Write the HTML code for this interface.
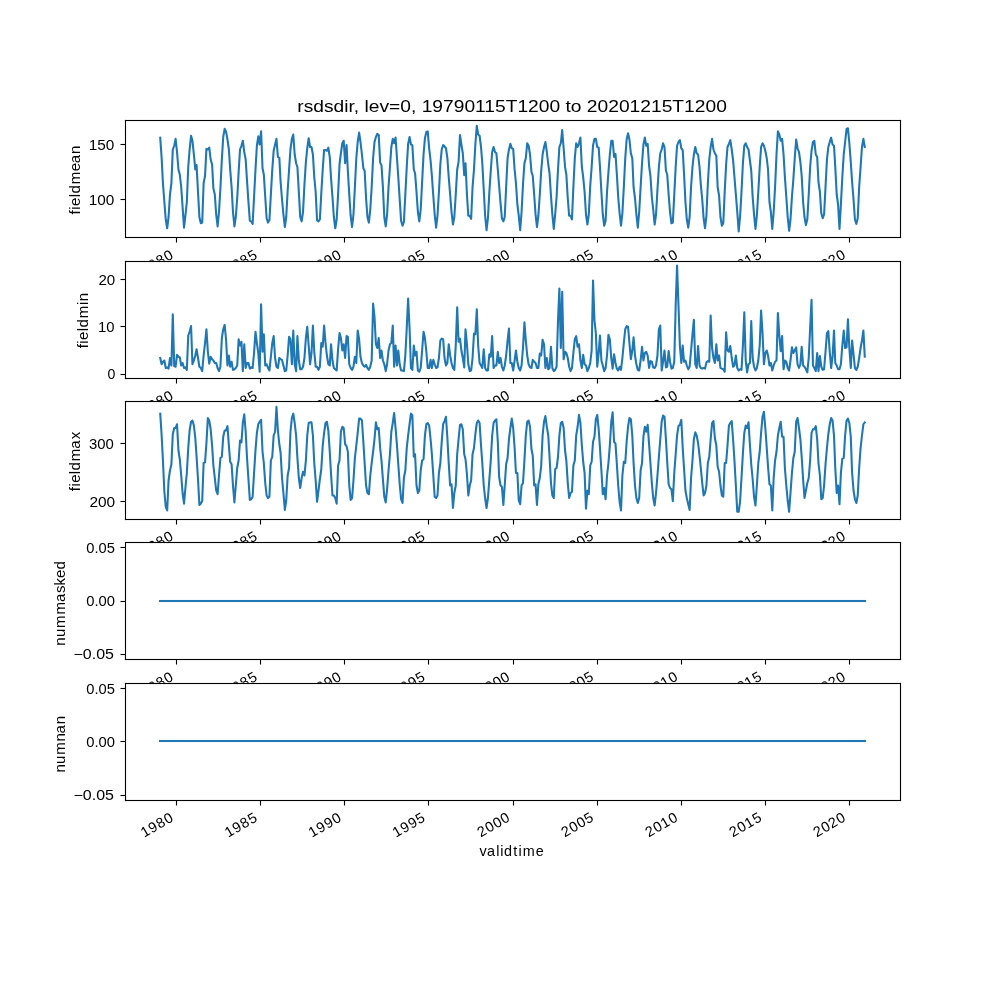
<!DOCTYPE html><html><head><meta charset="utf-8"><style>html,body{margin:0;padding:0;background:#fff;}svg{display:block;will-change:transform;}text{font-family:"Liberation Sans",sans-serif;fill:#000;}</style></head><body>
<svg width="1000" height="1000" viewBox="0 0 1000 1000">
<rect x="0" y="0" width="1000" height="1000" fill="#fff"/>
<defs><clipPath id="c0"><rect x="125" y="120.00" width="775" height="117.24"/></clipPath><clipPath id="c1"><rect x="125" y="260.69" width="775" height="117.24"/></clipPath><clipPath id="c2"><rect x="125" y="401.38" width="775" height="117.24"/></clipPath><clipPath id="c3"><rect x="125" y="542.07" width="775" height="117.24"/></clipPath><clipPath id="c4"><rect x="125" y="682.76" width="775" height="117.24"/></clipPath></defs>
<g><rect x="125" y="120.00" width="775" height="117.24" fill="#fff"/><polyline clip-path="url(#c0)" points="160.23,137.62 161.65,158.25 162.94,183.25 164.37,202.00 165.75,219.50 167.18,228.25 168.56,217.00 169.98,194.50 171.41,183.25 172.79,149.50 174.22,145.75 175.60,138.88 177.02,152.00 178.45,169.50 179.79,174.50 181.21,187.00 182.59,207.00 184.02,227.62 185.40,215.75 186.83,202.00 188.25,167.00 189.63,149.50 191.06,135.75 192.44,140.75 193.87,154.50 195.29,169.50 196.58,165.12 198.01,192.00 199.39,217.00 200.82,223.25 202.20,222.62 203.62,183.25 205.05,175.75 206.43,148.88 207.86,149.50 209.24,147.62 210.66,159.50 212.09,164.50 213.38,188.25 214.81,194.50 216.19,214.50 217.61,226.38 218.99,212.00 220.42,188.25 221.85,159.50 223.23,137.00 224.65,128.88 226.03,131.38 227.46,139.50 228.89,149.50 230.18,169.50 231.60,187.00 232.98,212.00 234.41,226.38 235.79,217.00 237.22,198.25 238.64,172.00 240.02,149.50 241.45,145.75 242.83,140.75 244.26,152.00 245.68,159.50 247.02,180.75 248.45,202.00 249.83,220.75 251.25,221.38 252.63,223.88 254.06,197.00 255.49,169.50 256.87,145.75 258.29,136.38 259.67,144.50 261.10,131.38 262.53,168.25 263.82,174.50 265.24,197.00 266.62,218.25 268.05,222.62 269.43,220.12 270.86,194.50 272.28,169.50 273.66,150.75 275.09,144.50 276.47,138.88 277.90,157.00 279.32,157.62 280.61,182.00 282.04,199.50 283.42,214.50 284.85,227.00 286.23,217.00 287.65,190.75 289.08,169.50 290.46,149.50 291.89,138.88 293.27,134.50 294.69,154.50 296.12,163.25 297.41,167.00 298.84,192.00 300.22,217.00 301.64,221.38 303.02,212.00 304.45,184.50 305.88,162.00 307.26,148.25 308.68,138.25 310.06,147.00 311.49,147.00 312.92,154.50 314.25,177.00 315.68,192.00 317.06,220.12 318.49,221.38 319.87,219.50 321.29,193.25 322.72,169.50 324.10,150.12 325.53,150.12 326.91,150.75 328.33,147.62 329.76,157.00 331.05,178.25 332.48,197.00 333.86,217.00 335.28,228.25 336.66,219.50 338.09,194.50 339.52,164.50 340.90,153.25 342.32,143.25 343.70,140.75 345.13,163.25 346.56,145.12 347.85,170.75 349.27,194.50 350.65,215.75 352.08,227.00 353.46,214.50 354.89,187.00 356.31,158.25 357.69,142.00 359.12,132.62 360.50,142.00 361.93,154.50 363.35,168.25 364.64,170.75 366.07,198.25 367.45,217.00 368.88,222.62 370.26,209.50 371.68,187.00 373.11,158.25 374.49,142.00 375.92,137.00 377.30,133.88 378.72,135.12 380.15,162.62 381.48,165.12 382.91,187.00 384.29,217.00 385.72,226.38 387.10,214.50 388.53,187.00 389.95,167.00 391.33,147.00 392.76,138.88 394.14,143.25 395.57,137.62 396.99,158.25 398.28,177.00 399.71,199.50 401.09,220.75 402.52,225.75 403.90,222.00 405.32,194.50 406.75,167.00 408.13,143.88 409.56,137.00 410.94,144.50 412.36,145.12 413.79,169.50 415.08,173.25 416.51,192.00 417.89,212.00 419.31,221.38 420.69,209.50 422.12,182.00 423.55,154.50 424.93,138.25 426.35,132.00 427.73,131.38 429.16,148.25 430.59,160.75 431.88,175.75 433.30,195.75 434.68,214.50 436.11,227.62 437.49,215.75 438.92,192.00 440.34,164.50 441.72,149.50 443.15,145.12 444.53,146.38 445.96,148.25 447.38,158.25 448.72,177.00 450.14,194.50 451.53,212.00 452.95,224.50 454.33,217.00 455.76,194.50 457.19,169.50 458.57,162.00 459.99,135.12 461.37,144.50 462.80,153.25 464.23,175.12 465.51,163.25 466.94,194.50 468.32,215.75 469.75,215.75 471.13,218.88 472.56,187.00 473.98,169.50 475.36,144.50 476.79,125.75 478.17,134.50 479.60,135.75 481.02,147.00 482.31,163.25 483.74,189.50 485.12,215.75 486.55,230.12 487.93,218.25 489.35,192.00 490.78,170.75 492.16,152.00 493.59,147.00 494.97,152.00 496.39,153.25 497.82,169.50 499.11,185.75 500.54,203.25 501.92,218.25 503.34,221.38 504.72,217.00 506.15,187.00 507.58,158.25 508.96,149.50 510.38,143.88 511.76,148.25 513.19,148.88 514.62,169.50 515.95,183.25 517.38,204.50 518.76,215.75 520.19,230.12 521.57,212.00 522.99,184.50 524.42,163.25 525.80,158.25 527.23,143.25 528.61,145.75 530.03,154.50 531.46,172.00 532.75,175.75 534.17,194.50 535.56,214.50 536.98,227.00 538.36,215.75 539.79,194.50 541.22,170.75 542.60,154.50 544.02,147.00 545.40,142.00 546.83,152.00 548.26,164.50 549.55,173.25 550.97,195.75 552.35,214.50 553.78,228.88 555.16,214.50 556.59,197.00 558.01,169.50 559.39,147.00 560.82,143.25 562.20,130.12 563.63,148.25 565.05,167.00 566.34,174.50 567.77,198.25 569.15,215.75 570.58,215.75 571.96,219.50 573.38,187.00 574.81,158.25 576.19,143.25 577.62,147.00 579.00,143.25 580.42,137.62 581.85,167.00 583.18,177.00 584.61,192.00 585.99,214.50 587.42,224.50 588.80,214.50 590.23,185.75 591.65,167.00 593.03,145.75 594.46,138.88 595.84,138.88 597.27,147.00 598.69,147.62 599.98,167.00 601.41,192.00 602.79,214.50 604.22,225.75 605.60,220.75 607.02,192.00 608.45,172.00 609.83,154.50 611.26,140.75 612.64,140.75 614.06,157.00 615.49,153.88 616.78,173.25 618.20,197.00 619.59,213.25 621.01,225.75 622.39,213.25 623.82,187.00 625.25,158.25 626.63,139.50 628.05,133.25 629.43,139.50 630.86,153.25 632.29,158.25 633.58,187.00 635.00,198.25 636.38,214.50 637.81,227.62 639.19,212.00 640.62,187.00 642.04,163.25 643.42,144.50 644.85,137.62 646.23,145.75 647.66,143.88 649.08,165.75 650.42,175.75 651.84,197.00 653.23,209.50 654.65,224.50 656.03,214.50 657.46,189.50 658.89,167.00 660.27,153.25 661.69,149.50 663.07,143.25 664.50,147.00 665.93,170.75 667.21,174.50 668.64,194.50 670.02,212.00 671.45,223.25 672.83,222.62 674.26,194.50 675.68,167.00 677.06,145.75 678.49,142.00 679.87,140.12 681.30,148.25 682.72,150.12 684.01,173.25 685.44,202.00 686.82,219.50 688.25,227.62 689.63,217.00 691.05,187.00 692.48,167.00 693.86,154.50 695.29,147.00 696.67,153.25 698.09,154.50 699.52,167.00 700.81,184.50 702.23,199.50 703.62,218.25 705.04,228.25 706.42,215.75 707.85,183.25 709.28,159.50 710.66,147.00 712.08,138.88 713.46,149.50 714.89,153.25 716.32,155.75 717.65,187.00 719.08,195.75 720.46,217.00 721.88,225.75 723.27,223.25 724.69,192.00 726.12,164.50 727.50,147.00 728.93,143.88 730.31,140.12 731.73,149.50 733.16,160.75 734.45,177.00 735.87,194.50 737.26,212.00 738.68,231.38 740.06,217.00 741.49,192.00 742.92,163.25 744.30,145.75 745.72,143.25 747.10,147.00 748.53,149.50 749.96,160.75 751.24,170.75 752.67,197.00 754.05,214.50 755.48,228.88 756.86,215.75 758.29,192.00 759.71,167.00 761.09,147.00 762.52,143.25 763.90,145.75 765.33,150.75 766.75,158.25 768.04,169.50 769.47,202.00 770.85,212.00 772.28,228.88 773.66,212.00 775.08,187.00 776.51,154.50 777.89,131.38 779.32,134.50 780.70,140.75 782.12,138.88 783.55,154.50 784.88,177.00 786.31,197.00 787.69,217.00 789.12,230.75 790.50,219.50 791.93,197.00 793.35,179.50 794.73,158.25 796.16,139.50 797.54,148.25 798.97,152.00 800.39,162.00 801.68,175.75 803.11,202.00 804.49,217.00 805.91,225.12 807.30,219.50 808.72,194.50 810.15,167.00 811.53,150.75 812.96,142.00 814.34,140.75 815.76,154.50 817.19,157.00 818.48,182.00 819.90,192.00 821.29,213.25 822.71,218.25 824.09,214.50 825.52,187.00 826.95,159.50 828.33,147.00 829.75,142.00 831.13,137.62 832.56,144.50 833.99,145.75 835.27,167.00 836.70,194.50 838.08,204.50 839.51,228.88 840.89,204.50 842.32,177.00 843.74,154.50 845.12,142.00 846.55,128.88 847.93,128.25 849.36,143.25 850.78,162.00 852.12,182.00 853.54,199.50 854.92,219.50 856.35,223.88 857.73,218.25 859.16,187.00 860.59,167.00 861.97,147.00 863.39,138.88 864.77,147.00" fill="none" stroke="#1f77b4" stroke-width="2.0833" stroke-linejoin="round" stroke-linecap="square"/><rect x="124.9444" y="119.9444" width="776.1112" height="1.1112" fill="#000"/><rect x="124.9444" y="236.9444" width="776.1112" height="1.1112" fill="#000"/><rect x="124.9444" y="119.9444" width="1.1112" height="118.1112" fill="#000"/><rect x="899.9444" y="119.9444" width="1.1112" height="118.1112" fill="#000"/><rect x="175.9444" y="238" width="1.1112" height="4.5" fill="#000"/><rect x="259.9444" y="238" width="1.1112" height="4.5" fill="#000"/><rect x="343.9444" y="238" width="1.1112" height="4.5" fill="#000"/><rect x="427.9444" y="238" width="1.1112" height="4.5" fill="#000"/><rect x="512.9444" y="238" width="1.1112" height="4.5" fill="#000"/><rect x="596.9444" y="238" width="1.1112" height="4.5" fill="#000"/><rect x="680.9444" y="238" width="1.1112" height="4.5" fill="#000"/><rect x="764.9444" y="238" width="1.1112" height="4.5" fill="#000"/><rect x="848.9444" y="238" width="1.1112" height="4.5" fill="#000"/><rect x="120.5" y="143.9444" width="4.5" height="1.1112" fill="#000"/><rect x="120.5" y="198.9444" width="4.5" height="1.1112" fill="#000"/><text x="297.238" y="111.880" font-size="17.400" textLength="429.600" lengthAdjust="spacingAndGlyphs">rsdsdir, lev=0, 19790115T1200 to 20201215T1200</text><text x="88.838" y="204.596" font-size="14.000" textLength="25.553" lengthAdjust="spacingAndGlyphs">100</text><text x="88.797" y="149.610" font-size="14.000" textLength="25.575" lengthAdjust="spacingAndGlyphs">150</text><text transform="translate(143.862 275.261) rotate(-30)" x="0.34 9.24 18.16 27.04" y="0" font-size="14.400">1980</text><text transform="translate(227.842 275.236) rotate(-30)" x="0.34 9.24 18.16 26.98" y="0" font-size="14.400">1985</text><text transform="translate(311.831 275.263) rotate(-30)" x="0.34 9.24 18.12 27.04" y="0" font-size="14.400">1990</text><text transform="translate(395.759 275.244) rotate(-30)" x="0.34 9.24 18.12 26.98" y="0" font-size="14.400">1995</text><text transform="translate(480.625 274.940) rotate(-30)" x="0.23 9.16 17.91 26.66" y="0" font-size="14.400">2000</text><text transform="translate(564.554 274.731) rotate(-30)" x="0.23 9.16 17.91 26.61" y="0" font-size="14.400">2005</text><text transform="translate(648.673 274.901) rotate(-30)" x="0.23 9.16 17.84 26.79" y="0" font-size="14.400">2010</text><text transform="translate(732.645 274.883) rotate(-30)" x="0.23 9.16 17.84 26.73" y="0" font-size="14.400">2015</text><text transform="translate(816.476 274.899) rotate(-30)" x="0.23 9.16 17.73 26.66" y="0" font-size="14.400">2020</text><text transform="translate(79.571 214.917) rotate(-90) scale(1.0300 1)" x="0.51 5.11 8.73 17.12 20.77 29.77 42.47 50.16 59.22" y="0" font-size="14.600">fieldmean</text></g>
<g><rect x="125" y="260.69" width="775" height="117.24" fill="#fff"/><polyline clip-path="url(#c1)" points="160.23,358.00 161.65,364.25 162.94,361.75 164.37,360.50 165.75,368.00 167.18,367.38 168.56,368.62 169.98,358.00 171.41,365.50 172.79,314.25 174.22,366.12 175.60,366.75 177.02,354.88 178.45,356.75 179.79,357.38 181.21,365.50 182.59,363.00 184.02,368.00 185.40,367.38 186.83,369.88 188.25,335.50 189.63,331.75 191.06,326.12 192.44,364.25 193.87,360.50 195.29,355.50 196.58,349.25 198.01,358.00 199.39,366.75 200.82,368.00 202.20,371.12 203.62,355.50 205.05,343.00 206.43,329.25 207.86,351.75 209.24,363.62 210.66,356.75 212.09,359.25 213.38,360.50 214.81,363.00 216.19,363.00 217.61,368.00 218.99,371.12 220.42,366.75 221.85,338.00 223.23,329.25 224.65,324.88 226.03,339.25 227.46,365.50 228.89,355.50 230.18,366.75 231.60,361.75 232.98,369.88 234.41,369.25 235.79,368.00 237.22,365.50 238.64,339.25 240.02,345.50 241.45,341.75 242.83,371.12 244.26,344.25 245.68,368.00 247.02,363.00 248.45,363.00 249.83,368.62 251.25,367.38 252.63,368.00 254.06,353.00 255.49,331.75 256.87,343.00 258.29,353.00 259.67,371.75 261.10,304.25 262.53,351.75 263.82,334.25 265.24,365.50 266.62,364.25 268.05,368.00 269.43,370.50 270.86,356.75 272.28,343.00 273.66,336.12 275.09,358.00 276.47,366.75 277.90,368.00 279.32,358.00 280.61,359.25 282.04,359.88 283.42,365.50 284.85,371.12 286.23,370.50 287.65,355.50 289.08,336.75 290.46,339.25 291.89,364.25 293.27,330.50 294.69,364.25 296.12,371.12 297.41,336.12 298.84,360.50 300.22,369.25 301.64,369.25 303.02,366.75 304.45,358.00 305.88,338.00 307.26,326.75 308.68,345.50 310.06,364.25 311.49,353.00 312.92,325.50 314.25,351.75 315.68,366.75 317.06,366.75 318.49,369.88 319.87,366.75 321.29,343.00 322.72,346.75 324.10,325.50 325.53,343.00 326.91,355.50 328.33,364.25 329.76,365.50 331.05,344.25 332.48,360.50 333.86,368.00 335.28,369.25 336.66,370.50 338.09,349.25 339.52,333.00 340.90,338.00 342.32,350.50 343.70,344.25 345.13,358.00 346.56,336.12 347.85,336.75 349.27,364.25 350.65,368.00 352.08,369.88 353.46,366.75 354.89,356.75 356.31,363.00 357.69,330.50 359.12,339.25 360.50,356.75 361.93,363.00 363.35,365.50 364.64,366.75 366.07,364.88 367.45,368.00 368.88,369.88 370.26,366.75 371.68,360.50 373.11,303.62 374.49,316.75 375.92,344.25 377.30,348.00 378.72,338.00 380.15,358.00 381.48,350.50 382.91,360.50 384.29,364.25 385.72,371.12 387.10,364.25 388.53,350.50 389.95,344.25 391.33,343.00 392.76,325.50 394.14,366.75 395.57,345.50 396.99,365.50 398.28,350.50 399.71,364.25 401.09,370.50 402.52,370.50 403.90,371.12 405.32,355.50 406.75,328.00 408.13,298.62 409.56,328.00 410.94,368.00 412.36,369.88 413.79,345.50 415.08,355.50 416.51,351.75 417.89,370.50 419.31,371.75 420.69,368.00 422.12,350.50 423.55,331.75 424.93,338.00 426.35,351.75 427.73,368.00 429.16,368.00 430.59,359.88 431.88,368.00 433.30,359.88 434.68,364.25 436.11,368.00 437.49,367.38 438.92,358.00 440.34,340.50 441.72,338.62 443.15,339.25 444.53,358.00 445.96,365.50 447.38,363.00 448.72,344.25 450.14,355.50 451.53,363.00 452.95,368.00 454.33,369.88 455.76,345.50 457.19,307.38 458.57,341.75 459.99,338.62 461.37,350.50 462.80,358.00 464.23,367.38 465.51,329.25 466.94,344.25 468.32,364.25 469.75,371.12 471.13,370.50 472.56,358.00 473.98,333.62 475.36,334.25 476.79,309.25 478.17,345.50 479.60,363.00 481.02,365.50 482.31,368.00 483.74,349.25 485.12,368.00 486.55,370.50 487.93,370.50 489.35,354.25 490.78,356.75 492.16,336.12 493.59,368.00 494.97,365.50 496.39,365.50 497.82,351.75 499.11,363.00 500.54,358.00 501.92,366.75 503.34,370.50 504.72,365.50 506.15,355.50 507.58,340.50 508.96,328.62 510.38,363.00 511.76,363.00 513.19,370.50 514.62,360.50 515.95,350.50 517.38,361.75 518.76,368.00 520.19,370.50 521.57,365.50 522.99,348.00 524.42,322.38 525.80,340.50 527.23,355.50 528.61,364.25 530.03,367.38 531.46,368.00 532.75,359.88 534.17,361.75 535.56,363.00 536.98,368.00 538.36,368.00 539.79,353.62 541.22,355.50 542.60,339.88 544.02,344.25 545.40,368.00 546.83,358.00 548.26,369.25 549.55,368.00 550.97,346.75 552.35,368.00 553.78,371.12 555.16,369.88 556.59,366.75 558.01,320.50 559.39,288.62 560.82,348.00 562.20,291.75 563.63,359.25 565.05,351.75 566.34,353.00 567.77,358.00 569.15,366.75 570.58,371.12 571.96,368.00 573.38,353.00 574.81,339.25 576.19,336.12 577.62,346.75 579.00,344.25 580.42,360.50 581.85,368.00 583.18,354.88 584.61,364.25 585.99,365.50 587.42,371.12 588.80,368.00 590.23,363.00 591.65,350.50 593.03,280.50 594.46,320.50 595.84,333.00 597.27,366.75 598.69,353.00 599.98,335.50 601.41,360.50 602.79,365.50 604.22,371.12 605.60,368.00 607.02,355.50 608.45,334.88 609.83,339.25 611.26,358.00 612.64,368.62 614.06,354.25 615.49,363.00 616.78,368.62 618.20,370.50 619.59,366.75 621.01,369.88 622.39,358.00 623.82,343.00 625.25,329.25 626.63,326.12 628.05,326.75 629.43,343.00 630.86,359.25 632.29,350.50 633.58,337.38 635.00,355.50 636.38,364.25 637.81,369.88 639.19,370.50 640.62,360.50 642.04,346.75 643.42,360.50 644.85,353.00 646.23,351.75 647.66,355.50 649.08,368.00 650.42,361.12 651.84,361.75 653.23,367.38 654.65,368.00 656.03,365.50 657.46,355.50 658.89,329.25 660.27,325.50 661.69,370.50 663.07,361.75 664.50,350.50 665.93,367.38 667.21,366.75 668.64,351.12 670.02,361.75 671.45,368.62 672.83,368.00 674.26,361.75 675.68,305.50 677.06,265.50 678.49,305.50 679.87,345.50 681.30,363.00 682.72,345.50 684.01,361.75 685.44,360.50 686.82,365.50 688.25,369.25 689.63,366.75 691.05,350.50 692.48,334.25 693.86,319.88 695.29,364.25 696.67,368.00 698.09,346.12 699.52,365.50 700.81,368.00 702.23,368.62 703.62,368.00 705.04,368.62 706.42,362.38 707.85,361.12 709.28,361.75 710.66,315.50 712.08,348.00 713.46,358.00 714.89,363.00 716.32,344.25 717.65,360.50 719.08,355.50 720.46,368.00 721.88,368.62 723.27,369.25 724.69,371.75 726.12,332.38 727.50,350.50 728.93,351.75 730.31,346.12 731.73,358.00 733.16,366.75 734.45,365.50 735.87,355.50 737.26,368.00 738.68,370.50 740.06,369.25 741.49,369.88 742.92,345.50 744.30,312.38 745.72,360.50 747.10,372.38 748.53,364.25 749.96,363.00 751.24,321.12 752.67,358.00 754.05,366.75 755.48,370.50 756.86,368.00 758.29,360.50 759.71,345.50 761.09,310.50 762.52,333.00 763.90,364.25 765.33,353.00 766.75,350.50 768.04,355.50 769.47,365.50 770.85,363.00 772.28,370.50 773.66,365.50 775.08,361.75 776.51,360.50 777.89,313.00 779.32,335.50 780.70,351.12 782.12,336.12 783.55,369.25 784.88,360.50 786.31,361.75 787.69,368.00 789.12,370.50 790.50,360.50 791.93,347.38 793.35,353.00 794.73,350.50 796.16,347.38 797.54,364.25 798.97,368.00 800.39,364.25 801.68,346.75 803.11,365.50 804.49,366.75 805.91,369.25 807.30,372.38 808.72,358.00 810.15,328.00 811.53,299.88 812.96,365.50 814.34,368.00 815.76,371.12 817.19,353.00 818.48,371.12 819.90,356.12 821.29,366.75 822.71,369.88 824.09,369.25 825.52,351.75 826.95,333.00 828.33,331.12 829.75,351.75 831.13,368.00 832.56,356.75 833.99,330.50 835.27,363.00 836.70,365.50 838.08,369.25 839.51,369.25 840.89,364.25 842.32,345.50 843.74,330.50 845.12,348.00 846.55,347.38 847.93,319.25 849.36,348.00 850.78,368.00 852.12,340.50 853.54,354.25 854.92,368.00 856.35,369.88 857.73,366.75 859.16,358.00 860.59,348.00 861.97,340.50 863.39,330.50 864.77,356.75" fill="none" stroke="#1f77b4" stroke-width="2.0833" stroke-linejoin="round" stroke-linecap="square"/><rect x="124.9444" y="260.9444" width="776.1112" height="1.1112" fill="#000"/><rect x="124.9444" y="377.9444" width="776.1112" height="1.1112" fill="#000"/><rect x="124.9444" y="260.9444" width="1.1112" height="118.1112" fill="#000"/><rect x="899.9444" y="260.9444" width="1.1112" height="118.1112" fill="#000"/><rect x="175.9444" y="379" width="1.1112" height="4.5" fill="#000"/><rect x="259.9444" y="379" width="1.1112" height="4.5" fill="#000"/><rect x="343.9444" y="379" width="1.1112" height="4.5" fill="#000"/><rect x="427.9444" y="379" width="1.1112" height="4.5" fill="#000"/><rect x="512.9444" y="379" width="1.1112" height="4.5" fill="#000"/><rect x="596.9444" y="379" width="1.1112" height="4.5" fill="#000"/><rect x="680.9444" y="379" width="1.1112" height="4.5" fill="#000"/><rect x="764.9444" y="379" width="1.1112" height="4.5" fill="#000"/><rect x="848.9444" y="379" width="1.1112" height="4.5" fill="#000"/><rect x="120.5" y="278.9444" width="4.5" height="1.1112" fill="#000"/><rect x="120.5" y="325.9444" width="4.5" height="1.1112" fill="#000"/><rect x="120.5" y="373.9444" width="4.5" height="1.1112" fill="#000"/><text x="107.488" y="378.705" font-size="14.000" textLength="7.854" lengthAdjust="spacingAndGlyphs">0</text><text x="98.101" y="331.607" font-size="14.000" textLength="16.500" lengthAdjust="spacingAndGlyphs">10</text><text x="98.473" y="284.660" font-size="14.000" textLength="16.773" lengthAdjust="spacingAndGlyphs">20</text><text transform="translate(143.862 415.951) rotate(-30)" x="0.34 9.24 18.16 27.04" y="0" font-size="14.400">1980</text><text transform="translate(227.842 415.926) rotate(-30)" x="0.34 9.24 18.16 26.98" y="0" font-size="14.400">1985</text><text transform="translate(311.831 415.953) rotate(-30)" x="0.34 9.24 18.12 27.04" y="0" font-size="14.400">1990</text><text transform="translate(395.759 415.934) rotate(-30)" x="0.34 9.24 18.12 26.98" y="0" font-size="14.400">1995</text><text transform="translate(480.625 415.630) rotate(-30)" x="0.23 9.16 17.91 26.66" y="0" font-size="14.400">2000</text><text transform="translate(564.554 415.420) rotate(-30)" x="0.23 9.16 17.91 26.61" y="0" font-size="14.400">2005</text><text transform="translate(648.673 415.591) rotate(-30)" x="0.23 9.16 17.84 26.79" y="0" font-size="14.400">2010</text><text transform="translate(732.645 415.573) rotate(-30)" x="0.23 9.16 17.84 26.73" y="0" font-size="14.400">2015</text><text transform="translate(816.476 415.588) rotate(-30)" x="0.23 9.16 17.73 26.66" y="0" font-size="14.400">2020</text><text transform="translate(87.533 348.877) rotate(-90) scale(1.0300 1)" x="0.51 5.11 8.73 17.12 20.77 29.77 42.61 46.36" y="0" font-size="14.600">fieldmin</text></g>
<g><rect x="125" y="401.38" width="775" height="117.24" fill="#fff"/><polyline clip-path="url(#c2)" points="160.23,413.62 161.65,435.50 162.94,460.50 164.37,491.75 165.75,506.75 167.18,510.50 168.56,480.50 169.98,470.50 171.41,464.25 172.79,434.25 174.22,428.00 175.60,428.00 177.02,424.25 178.45,450.50 179.79,459.25 181.21,475.50 182.59,493.00 184.02,503.62 185.40,488.00 186.83,473.00 188.25,448.00 189.63,430.50 191.06,421.75 192.44,420.50 193.87,425.50 195.29,438.00 196.58,456.75 198.01,479.25 199.39,504.88 200.82,503.62 202.20,501.12 203.62,463.00 205.05,462.38 206.43,443.00 207.86,418.00 209.24,420.50 210.66,429.25 212.09,445.50 213.38,465.50 214.81,478.00 216.19,490.50 217.61,494.25 218.99,475.50 220.42,458.00 221.85,456.75 223.23,436.75 224.65,430.50 226.03,430.50 227.46,426.12 228.89,445.50 230.18,461.75 231.60,464.25 232.98,485.50 234.41,502.38 235.79,485.50 237.22,468.00 238.64,460.50 240.02,440.50 241.45,442.38 242.83,423.00 244.26,414.25 245.68,431.75 247.02,458.00 248.45,479.25 249.83,499.88 251.25,499.25 252.63,496.75 254.06,473.00 255.49,450.50 256.87,433.00 258.29,424.25 259.67,421.75 261.10,419.88 262.53,451.75 263.82,463.00 265.24,483.00 266.62,495.50 268.05,498.00 269.43,496.75 270.86,460.50 272.28,456.75 273.66,435.50 275.09,431.75 276.47,406.75 277.90,430.50 279.32,444.25 280.61,453.00 282.04,478.00 283.42,493.00 284.85,509.88 286.23,500.50 287.65,475.50 289.08,468.00 290.46,431.75 291.89,418.00 293.27,413.62 294.69,423.00 296.12,435.50 297.41,458.00 298.84,478.00 300.22,488.00 301.64,478.00 303.02,471.75 304.45,475.50 305.88,460.50 307.26,435.50 308.68,423.00 310.06,422.38 311.49,422.38 312.92,435.50 314.25,463.00 315.68,480.50 317.06,501.75 318.49,490.50 319.87,479.25 321.29,469.25 322.72,445.50 324.10,433.00 325.53,423.00 326.91,421.75 328.33,430.50 329.76,451.75 331.05,474.25 332.48,495.50 333.86,495.50 335.28,498.00 336.66,503.62 338.09,465.50 339.52,460.50 340.90,431.75 342.32,426.75 343.70,428.00 345.13,444.25 346.56,446.12 347.85,451.75 349.27,485.50 350.65,499.88 352.08,498.00 353.46,480.50 354.89,458.00 356.31,445.50 357.69,433.00 359.12,418.62 360.50,418.62 361.93,420.50 363.35,441.75 364.64,463.00 366.07,485.50 367.45,493.00 368.88,494.25 370.26,475.50 371.68,463.00 373.11,451.75 374.49,439.25 375.92,422.38 377.30,429.25 378.72,428.00 380.15,448.00 381.48,460.50 382.91,479.25 384.29,496.75 385.72,502.38 387.10,489.25 388.53,470.50 389.95,454.25 391.33,431.75 392.76,423.00 394.14,413.00 395.57,428.00 396.99,445.50 398.28,464.25 399.71,484.25 401.09,499.25 402.52,503.00 403.90,478.00 405.32,470.50 406.75,448.00 408.13,435.50 409.56,424.25 410.94,413.62 412.36,415.50 413.79,456.75 415.08,454.25 416.51,485.50 417.89,493.00 419.31,490.50 420.69,470.50 422.12,460.50 423.55,459.25 424.93,435.50 426.35,424.25 427.73,423.00 429.16,425.50 430.59,439.25 431.88,454.25 433.30,475.50 434.68,496.75 436.11,498.00 437.49,495.50 438.92,473.00 440.34,463.00 441.72,441.75 443.15,424.25 444.53,421.12 445.96,416.75 447.38,438.00 448.72,463.00 450.14,485.50 451.53,484.25 452.95,508.00 454.33,493.00 455.76,485.50 457.19,454.25 458.57,439.25 459.99,424.88 461.37,424.25 462.80,429.25 464.23,454.25 465.51,459.25 466.94,474.25 468.32,495.50 469.75,485.50 471.13,480.50 472.56,454.25 473.98,448.00 475.36,434.25 476.79,423.00 478.17,420.50 479.60,423.00 481.02,445.50 482.31,463.00 483.74,485.50 485.12,498.00 486.55,508.00 487.93,498.00 489.35,479.25 490.78,460.50 492.16,435.50 493.59,423.00 494.97,420.50 496.39,419.25 497.82,441.75 499.11,476.75 500.54,485.50 501.92,486.75 503.34,504.88 504.72,485.50 506.15,464.25 507.58,458.00 508.96,439.25 510.38,428.00 511.76,418.62 513.19,428.00 514.62,448.00 515.95,473.00 517.38,473.00 518.76,500.50 520.19,504.25 521.57,485.50 522.99,483.00 524.42,460.50 525.80,435.50 527.23,421.75 528.61,420.50 530.03,426.75 531.46,449.25 532.75,455.50 534.17,485.50 535.56,484.25 536.98,504.88 538.36,484.25 539.79,478.00 541.22,465.50 542.60,435.50 544.02,421.75 545.40,416.12 546.83,426.75 548.26,435.50 549.55,456.75 550.97,483.00 552.35,495.50 553.78,498.00 555.16,469.25 556.59,468.00 558.01,456.75 559.39,435.50 560.82,423.00 562.20,421.75 563.63,428.00 565.05,450.50 566.34,460.50 567.77,483.00 569.15,498.00 570.58,493.00 571.96,491.75 573.38,465.50 574.81,460.50 576.19,435.50 577.62,426.75 579.00,414.88 580.42,423.00 581.85,445.50 583.18,461.75 584.61,473.00 585.99,508.62 587.42,490.50 588.80,494.25 590.23,465.50 591.65,461.75 593.03,441.75 594.46,436.75 595.84,419.25 597.27,414.88 598.69,429.25 599.98,448.00 601.41,470.50 602.79,494.25 604.22,488.00 605.60,499.25 607.02,475.50 608.45,463.00 609.83,445.50 611.26,421.75 612.64,412.38 614.06,441.75 615.49,443.62 616.78,463.00 618.20,485.50 619.59,501.75 621.01,510.50 622.39,475.50 623.82,461.75 625.25,463.00 626.63,441.75 628.05,426.75 629.43,418.00 630.86,419.25 632.29,435.50 633.58,463.00 635.00,485.50 636.38,498.00 637.81,503.00 639.19,498.00 640.62,470.50 642.04,463.00 643.42,436.75 644.85,426.75 646.23,431.75 647.66,424.88 649.08,444.25 650.42,463.00 651.84,483.00 653.23,498.00 654.65,505.50 656.03,493.00 657.46,475.50 658.89,456.75 660.27,439.25 661.69,421.75 663.07,415.50 664.50,416.75 665.93,439.25 667.21,461.75 668.64,484.25 670.02,488.00 671.45,489.25 672.83,501.12 674.26,473.00 675.68,454.25 677.06,435.50 678.49,426.12 679.87,424.88 681.30,419.88 682.72,448.00 684.01,468.00 685.44,490.50 686.82,498.00 688.25,504.25 689.63,509.88 691.05,478.00 692.48,460.50 693.86,439.25 695.29,432.38 696.67,435.50 698.09,443.00 699.52,455.50 700.81,468.00 702.23,483.00 703.62,495.50 705.04,493.00 706.42,485.50 707.85,463.00 709.28,456.75 710.66,439.25 712.08,423.00 713.46,421.12 714.89,438.00 716.32,445.50 717.65,466.75 719.08,471.75 720.46,485.50 721.88,495.50 723.27,496.75 724.69,463.00 726.12,463.00 727.50,445.50 728.93,425.50 730.31,423.00 731.73,421.12 733.16,440.50 734.45,460.50 735.87,485.50 737.26,511.75 738.68,511.75 740.06,501.75 741.49,478.00 742.92,453.00 744.30,433.00 745.72,425.50 747.10,428.00 748.53,422.38 749.96,445.50 751.24,464.25 752.67,479.25 754.05,496.75 755.48,505.50 756.86,485.50 758.29,463.00 759.71,451.75 761.09,433.00 762.52,416.75 763.90,411.75 765.33,428.00 766.75,448.00 768.04,466.75 769.47,484.25 770.85,485.50 772.28,510.50 773.66,478.00 775.08,460.50 776.51,451.75 777.89,435.50 779.32,428.00 780.70,421.75 782.12,436.75 783.55,436.75 784.88,468.00 786.31,485.50 787.69,500.50 789.12,511.75 790.50,493.00 791.93,473.00 793.35,458.00 794.73,451.75 796.16,421.75 797.54,418.00 798.97,428.00 800.39,439.25 801.68,456.75 803.11,479.25 804.49,498.00 805.91,490.50 807.30,483.00 808.72,478.00 810.15,460.50 811.53,433.00 812.96,429.25 814.34,429.25 815.76,426.12 817.19,439.25 818.48,463.00 819.90,475.50 821.29,499.25 822.71,498.00 824.09,485.50 825.52,464.25 826.95,448.00 828.33,434.25 829.75,424.25 831.13,418.00 832.56,420.50 833.99,435.50 835.27,468.00 836.70,493.00 838.08,485.50 839.51,504.25 840.89,473.00 842.32,458.62 843.74,458.00 845.12,435.50 846.55,420.50 847.93,418.62 849.36,423.00 850.78,436.75 852.12,473.00 853.54,490.50 854.92,499.25 856.35,503.00 857.73,495.50 859.16,468.00 860.59,448.00 861.97,435.50 863.39,424.25 864.77,422.38" fill="none" stroke="#1f77b4" stroke-width="2.0833" stroke-linejoin="round" stroke-linecap="square"/><rect x="124.9444" y="400.9444" width="776.1112" height="1.1112" fill="#000"/><rect x="124.9444" y="518.9444" width="776.1112" height="1.1112" fill="#000"/><rect x="124.9444" y="400.9444" width="1.1112" height="119.1112" fill="#000"/><rect x="899.9444" y="400.9444" width="1.1112" height="119.1112" fill="#000"/><rect x="175.9444" y="520" width="1.1112" height="4.5" fill="#000"/><rect x="259.9444" y="520" width="1.1112" height="4.5" fill="#000"/><rect x="343.9444" y="520" width="1.1112" height="4.5" fill="#000"/><rect x="427.9444" y="520" width="1.1112" height="4.5" fill="#000"/><rect x="512.9444" y="520" width="1.1112" height="4.5" fill="#000"/><rect x="596.9444" y="520" width="1.1112" height="4.5" fill="#000"/><rect x="680.9444" y="520" width="1.1112" height="4.5" fill="#000"/><rect x="764.9444" y="520" width="1.1112" height="4.5" fill="#000"/><rect x="848.9444" y="520" width="1.1112" height="4.5" fill="#000"/><rect x="120.5" y="442.9444" width="4.5" height="1.1112" fill="#000"/><rect x="120.5" y="500.9444" width="4.5" height="1.1112" fill="#000"/><text x="89.398" y="506.690" font-size="14.000" textLength="25.782" lengthAdjust="spacingAndGlyphs">200</text><text x="88.896" y="448.604" font-size="14.000" textLength="24.833" lengthAdjust="spacingAndGlyphs">300</text><text transform="translate(143.862 556.640) rotate(-30)" x="0.34 9.24 18.16 27.04" y="0" font-size="14.400">1980</text><text transform="translate(227.842 556.616) rotate(-30)" x="0.34 9.24 18.16 26.98" y="0" font-size="14.400">1985</text><text transform="translate(311.831 556.643) rotate(-30)" x="0.34 9.24 18.12 27.04" y="0" font-size="14.400">1990</text><text transform="translate(395.759 556.623) rotate(-30)" x="0.34 9.24 18.12 26.98" y="0" font-size="14.400">1995</text><text transform="translate(480.625 556.320) rotate(-30)" x="0.23 9.16 17.91 26.66" y="0" font-size="14.400">2000</text><text transform="translate(564.554 556.110) rotate(-30)" x="0.23 9.16 17.91 26.61" y="0" font-size="14.400">2005</text><text transform="translate(648.673 556.281) rotate(-30)" x="0.23 9.16 17.84 26.79" y="0" font-size="14.400">2010</text><text transform="translate(732.645 556.262) rotate(-30)" x="0.23 9.16 17.84 26.73" y="0" font-size="14.400">2015</text><text transform="translate(816.476 556.278) rotate(-30)" x="0.23 9.16 17.73 26.66" y="0" font-size="14.400">2020</text><text transform="translate(79.633 491.846) rotate(-90) scale(1.0300 1)" x="0.51 5.11 8.73 17.12 20.77 29.77 41.91 51.04" y="0" font-size="14.600">fieldmax</text></g>
<g><rect x="125" y="542.07" width="775" height="117.24" fill="#fff"/><rect x="158.9583" y="599.9583" width="707.0833" height="2.0833" fill="#1f77b4"/><rect x="124.9444" y="541.9444" width="776.1112" height="1.1112" fill="#000"/><rect x="124.9444" y="658.9444" width="776.1112" height="1.1112" fill="#000"/><rect x="124.9444" y="541.9444" width="1.1112" height="118.1112" fill="#000"/><rect x="899.9444" y="541.9444" width="1.1112" height="118.1112" fill="#000"/><rect x="175.9444" y="660" width="1.1112" height="4.5" fill="#000"/><rect x="259.9444" y="660" width="1.1112" height="4.5" fill="#000"/><rect x="343.9444" y="660" width="1.1112" height="4.5" fill="#000"/><rect x="427.9444" y="660" width="1.1112" height="4.5" fill="#000"/><rect x="512.9444" y="660" width="1.1112" height="4.5" fill="#000"/><rect x="596.9444" y="660" width="1.1112" height="4.5" fill="#000"/><rect x="680.9444" y="660" width="1.1112" height="4.5" fill="#000"/><rect x="764.9444" y="660" width="1.1112" height="4.5" fill="#000"/><rect x="848.9444" y="660" width="1.1112" height="4.5" fill="#000"/><rect x="120.5" y="546.9444" width="4.5" height="1.1112" fill="#000"/><rect x="120.5" y="600.9444" width="4.5" height="1.1112" fill="#000"/><rect x="120.5" y="653.9444" width="4.5" height="1.1112" fill="#000"/><text x="73.498" y="658.634" font-size="14.000" textLength="40.500" lengthAdjust="spacingAndGlyphs">−0.05</text><text x="86.295" y="605.785" font-size="14.000" textLength="28.784" lengthAdjust="spacingAndGlyphs">0.00</text><text x="86.207" y="552.861" font-size="14.000" textLength="28.601" lengthAdjust="spacingAndGlyphs">0.05</text><text transform="translate(143.862 697.330) rotate(-30)" x="0.34 9.24 18.16 27.04" y="0" font-size="14.400">1980</text><text transform="translate(227.842 697.305) rotate(-30)" x="0.34 9.24 18.16 26.98" y="0" font-size="14.400">1985</text><text transform="translate(311.831 697.332) rotate(-30)" x="0.34 9.24 18.12 27.04" y="0" font-size="14.400">1990</text><text transform="translate(395.759 697.313) rotate(-30)" x="0.34 9.24 18.12 26.98" y="0" font-size="14.400">1995</text><text transform="translate(480.625 697.009) rotate(-30)" x="0.23 9.16 17.91 26.66" y="0" font-size="14.400">2000</text><text transform="translate(564.554 696.800) rotate(-30)" x="0.23 9.16 17.91 26.61" y="0" font-size="14.400">2005</text><text transform="translate(648.673 696.970) rotate(-30)" x="0.23 9.16 17.84 26.79" y="0" font-size="14.400">2010</text><text transform="translate(732.645 696.952) rotate(-30)" x="0.23 9.16 17.84 26.73" y="0" font-size="14.400">2015</text><text transform="translate(816.476 696.968) rotate(-30)" x="0.23 9.16 17.73 26.66" y="0" font-size="14.400">2020</text><text transform="translate(64.648 646.050) rotate(-90) scale(1.0300 1)" x="0.24 8.68 17.51 30.62 42.76 51.54 58.84 66.01 74.29" y="0" font-size="14.600">nummasked</text></g>
<g><rect x="125" y="682.76" width="775" height="117.24" fill="#fff"/><rect x="158.9583" y="739.9583" width="707.0833" height="2.0833" fill="#1f77b4"/><rect x="124.9444" y="682.9444" width="776.1112" height="1.1112" fill="#000"/><rect x="124.9444" y="799.9444" width="776.1112" height="1.1112" fill="#000"/><rect x="124.9444" y="682.9444" width="1.1112" height="118.1112" fill="#000"/><rect x="899.9444" y="682.9444" width="1.1112" height="118.1112" fill="#000"/><rect x="175.9444" y="801" width="1.1112" height="4.5" fill="#000"/><rect x="259.9444" y="801" width="1.1112" height="4.5" fill="#000"/><rect x="343.9444" y="801" width="1.1112" height="4.5" fill="#000"/><rect x="427.9444" y="801" width="1.1112" height="4.5" fill="#000"/><rect x="512.9444" y="801" width="1.1112" height="4.5" fill="#000"/><rect x="596.9444" y="801" width="1.1112" height="4.5" fill="#000"/><rect x="680.9444" y="801" width="1.1112" height="4.5" fill="#000"/><rect x="764.9444" y="801" width="1.1112" height="4.5" fill="#000"/><rect x="848.9444" y="801" width="1.1112" height="4.5" fill="#000"/><rect x="120.5" y="687.9444" width="4.5" height="1.1112" fill="#000"/><rect x="120.5" y="740.9444" width="4.5" height="1.1112" fill="#000"/><rect x="120.5" y="794.9444" width="4.5" height="1.1112" fill="#000"/><text x="73.498" y="799.634" font-size="14.000" textLength="40.500" lengthAdjust="spacingAndGlyphs">−0.05</text><text x="86.295" y="746.785" font-size="14.000" textLength="28.784" lengthAdjust="spacingAndGlyphs">0.00</text><text x="86.207" y="693.861" font-size="14.000" textLength="28.601" lengthAdjust="spacingAndGlyphs">0.05</text><text transform="translate(143.862 838.020) rotate(-30)" x="0.34 9.24 18.16 27.04" y="0" font-size="14.400">1980</text><text transform="translate(227.842 837.995) rotate(-30)" x="0.34 9.24 18.16 26.98" y="0" font-size="14.400">1985</text><text transform="translate(311.831 838.022) rotate(-30)" x="0.34 9.24 18.12 27.04" y="0" font-size="14.400">1990</text><text transform="translate(395.759 838.003) rotate(-30)" x="0.34 9.24 18.12 26.98" y="0" font-size="14.400">1995</text><text transform="translate(480.625 837.699) rotate(-30)" x="0.23 9.16 17.91 26.66" y="0" font-size="14.400">2000</text><text transform="translate(564.554 837.489) rotate(-30)" x="0.23 9.16 17.91 26.61" y="0" font-size="14.400">2005</text><text transform="translate(648.673 837.660) rotate(-30)" x="0.23 9.16 17.84 26.79" y="0" font-size="14.400">2010</text><text transform="translate(732.645 837.642) rotate(-30)" x="0.23 9.16 17.84 26.73" y="0" font-size="14.400">2015</text><text transform="translate(816.476 837.657) rotate(-30)" x="0.23 9.16 17.73 26.66" y="0" font-size="14.400">2020</text><text transform="translate(64.721 772.820) rotate(-90) scale(1.0300 1)" x="0.24 8.68 17.51 30.34 38.15 47.21" y="0" font-size="14.600">numnan</text><text transform="translate(479.103 855.715)" x="0.51 7.98 17.20 21.09 24.94 34.19 39.34 43.68 56.67" y="0" font-size="14.400">validtime</text></g>
</svg></body></html>
